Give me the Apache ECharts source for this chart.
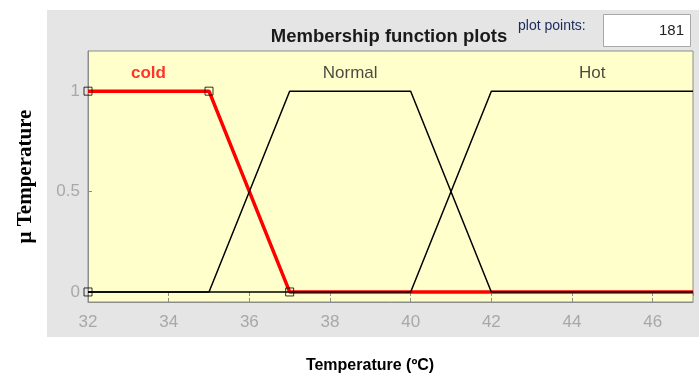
<!DOCTYPE html>
<html>
<head>
<meta charset="utf-8">
<script src="https://cdn.jsdelivr.net/npm/echarts@6/dist/echarts.min.js"></script>
<style>html,body{margin:0;padding:0;background:#fff;}#c{width:699px;height:376px;}</style>
</head>
<body>
<div id="c"></div>
<script>
// Data
var mfNames = ['cold', 'Normal', 'Hot'];
// membership curves (as plotted)
var coldX = [32, 35, 37, 47];
var coldY = [1, 1, 0, 0];
var normalX = [32, 35, 37, 40, 42, 47];
var normalY = [0, 0, 1, 1, 0, 0];
var hotX = [32, 40, 42, 47];
var hotY = [0, 0, 1, 1];
// selected MF (cold) parameter handles
var handleX = [32, 32, 35, 37];
var handleY = [0, 1, 1, 0];
// MF name label positions
var labelX = [33.5, 38.5, 44.5];
var labelY = [1.09, 1.09, 1.09];
var yTicks = [0, 0.5, 1];
var plotPoints = '181';

function pairs(xs, ys) { return xs.map(function (x, i) { return [x, ys[i]]; }); }

var chart = echarts.init(document.getElementById('c'));
var tickColor = '#a8a8a8';
var sans = '"Liberation Sans", Arial, Helvetica, sans-serif';
chart.setOption({
  animation: false,
  backgroundColor: '#ffffff',
  graphic: [
    { type: 'rect', z: -10, shape: { x: 47, y: 10, width: 652, height: 327 }, style: { fill: '#e5e5e5' } },
    { type: 'text', style: { x: 389, y: 37, text: 'Membership function plots', font: 'bold 18.5px ' + sans, fill: '#1a1a1a', align: 'center', verticalAlign: 'middle' } },
    { type: 'text', style: { x: 518, y: 26, text: 'plot points:', font: '14px ' + sans, fill: '#1a2a5a', align: 'left', verticalAlign: 'middle' } },
    { type: 'rect', shape: { x: 603.5, y: 14.5, width: 87, height: 32 }, style: { fill: '#ffffff', stroke: '#a8a8a8', lineWidth: 1 } },
    { type: 'text', style: { x: 684, y: 31, text: plotPoints, font: '15px ' + sans, fill: '#222', align: 'right', verticalAlign: 'middle' } },
    { type: 'text', style: { x: 370, y: 366, text: 'Temperature (ºC)', font: 'bold 16px ' + sans, fill: '#000', align: 'center', verticalAlign: 'middle' } }
  ],
  grid: { left: 88, top: 51, right: 6, bottom: 74, show: true, backgroundColor: '#ffffcc', borderColor: '#8c8c8c', borderWidth: 1 },
  xAxis: [{
    type: 'value', min: 32, max: 47, interval: 2,
    axisLine: { show: true, onZero: false, lineStyle: { color: '#8c8c8c' } },
    axisTick: { show: true, inside: true, length: 4, lineStyle: { color: '#8c8c8c' } },
    axisLabel: { color: tickColor, fontSize: 17, fontFamily: sans, margin: 12, showMaxLabel: false },
    splitLine: { show: false }
  }, {
    type: 'value', min: 32, max: 47, interval: 2, position: 'top',
    axisLine: { show: false },
    axisTick: { show: true, inside: true, length: 4, lineStyle: { color: '#8c8c8c' } },
    axisLabel: { show: false }, splitLine: { show: false }
  }],
  yAxis: {
    type: 'value', min: -0.05, max: 1.2,
    name: 'μ Temperature', nameLocation: 'middle', nameGap: 52, nameRotate: 90,
    nameTextStyle: { fontFamily: '"Liberation Serif", "Times New Roman", serif', fontWeight: 'bold', fontSize: 21, color: '#000' },
    axisLine: { show: true, lineStyle: { color: '#8c8c8c' } },
    axisTick: { show: true, inside: true, length: 4, customValues: yTicks, lineStyle: { color: '#8c8c8c' } },
    axisLabel: { color: tickColor, fontSize: 17, fontFamily: sans, margin: 8, customValues: yTicks },
    splitLine: { show: false }
  },
  series: [
    { name: mfNames[0], type: 'line', data: pairs(coldX, coldY), z: 2, symbol: 'none',
      lineStyle: { color: '#ff0000', width: 3.5 } },
    { name: mfNames[1], type: 'line', data: pairs(normalX, normalY), z: 3, symbol: 'none',
      lineStyle: { color: '#000', width: 1.5 } },
    { name: mfNames[2], type: 'line', data: pairs(hotX, hotY), z: 3, symbol: 'none',
      lineStyle: { color: '#000', width: 1.5 } },
    { type: 'scatter', data: pairs(handleX, handleY), z: 4, symbol: 'rect', symbolSize: 8,
      itemStyle: { color: 'rgba(0,0,0,0)', borderColor: '#000', borderWidth: 1 } },
    { type: 'scatter', symbolSize: 0, z: 5,
      data: mfNames.map(function (n, i) {
        return { value: [labelX[i], labelY[i]], name: n,
          label: { show: true, position: 'inside', formatter: n,
            color: i === 0 ? '#ff0000' : '#1a1a1a', fontWeight: i === 0 ? 'bold' : 'normal',
            fontSize: 17, fontFamily: sans } };
      }) }
  ]
});
</script>
</body>
</html>
